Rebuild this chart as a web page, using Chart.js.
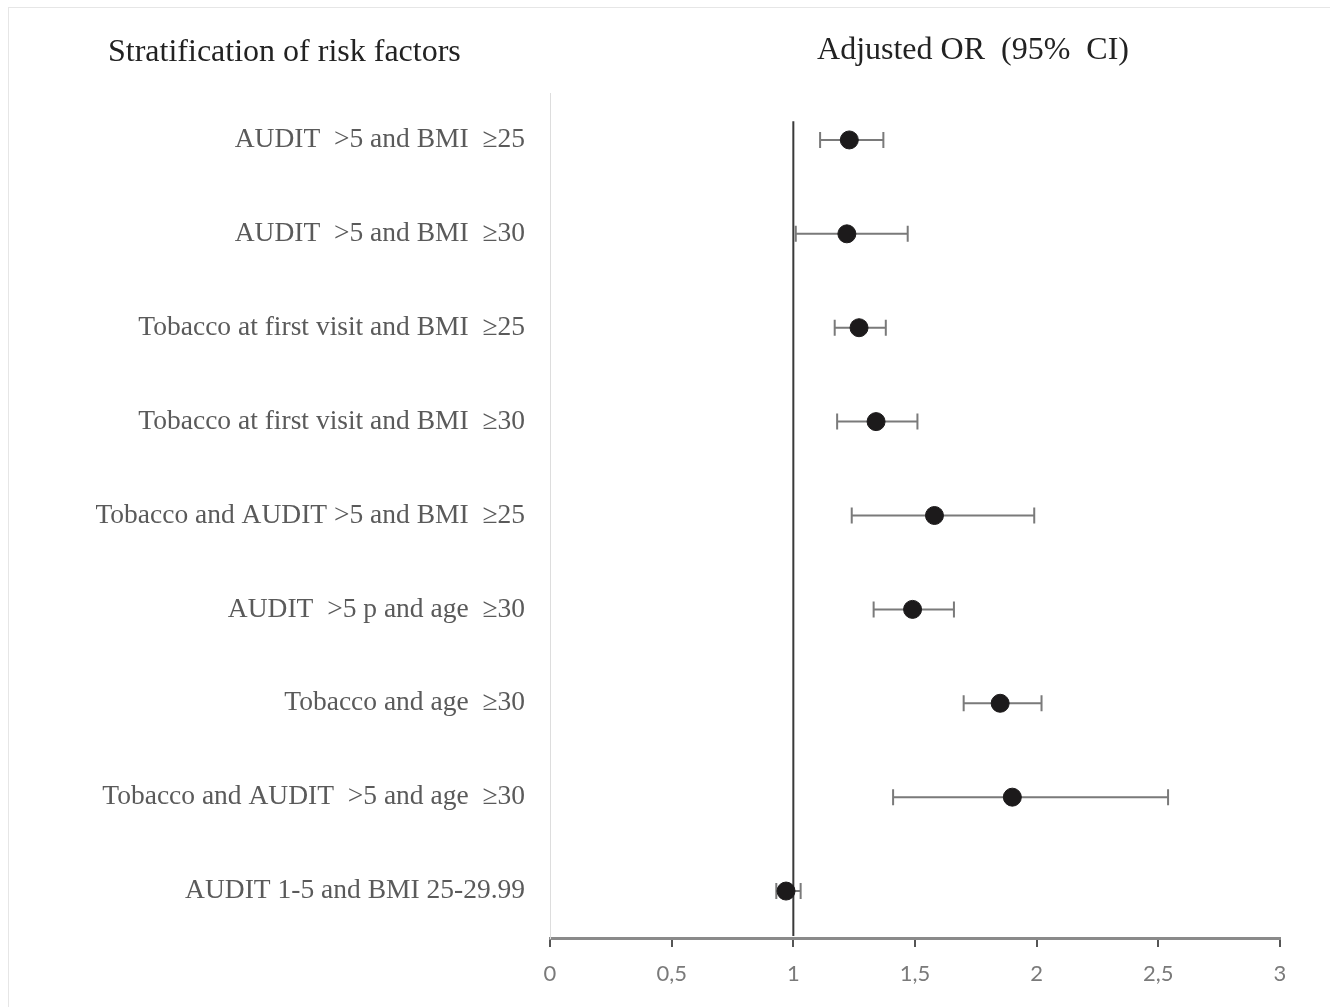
<!DOCTYPE html>
<html lang="en">
<head>
  <meta charset="UTF-8">
  <title>Adjusted OR forest plot</title>
  <script src="https://cdn.jsdelivr.net/npm/chart.js"></script>
  <style>
    html, body { margin: 0; padding: 0; background: #fff; }
    #wrap { position: relative; width: 1330px; height: 1007px; }
    #frame {
      position: absolute; left: 8px; top: 7px; right: 0; bottom: 0;
      border-left: 1px solid #e6e6e6; border-top: 1px solid #e6e6e6;
      pointer-events: none;
    }
  </style>
</head>
<body>
  <div id="wrap">
    <canvas id="forest" width="1330" height="1007"></canvas>
    <div id="frame"></div>
  </div>

  <script>
    // risk factor strata, top to bottom
    const factors = [
      "AUDIT  >5 and BMI  \u226525",
      "AUDIT  >5 and BMI  \u226530",
      "Tobacco at first visit and BMI  \u226525",
      "Tobacco at first visit and BMI  \u226530",
      "Tobacco and AUDIT >5 and BMI  \u226525",
      "AUDIT  >5 p and age  \u226530",
      "Tobacco and age  \u226530",
      "Tobacco and AUDIT  >5 and age  \u226530",
      "AUDIT 1-5 and BMI 25-29.99"
    ];
    const oddsRatio = [1.23, 1.22, 1.27, 1.34, 1.58, 1.49, 1.85, 1.90, 0.97];
    const ciLow     = [1.11, 1.01, 1.17, 1.18, 1.24, 1.33, 1.70, 1.41, 0.93];
    const ciHigh    = [1.37, 1.47, 1.38, 1.51, 1.99, 1.66, 2.02, 2.54, 1.03];
    const xTicks    = [0, 0.5, 1, 1.5, 2, 2.5, 3];

    const rowOf = i => i + 1;

    // whiskers for the confidence intervals
    const ciBars = {
      id: "ciBars",
      beforeDatasetsDraw(chart) {
        const { ctx, scales: { x, y } } = chart;
        ctx.save();
        ctx.strokeStyle = "#7a7a7a";
        ctx.lineWidth = 2;
        oddsRatio.forEach((_, i) => {
          const py = y.getPixelForValue(rowOf(i));
          const x1 = x.getPixelForValue(ciLow[i]);
          const x2 = x.getPixelForValue(ciHigh[i]);
          ctx.beginPath();
          ctx.moveTo(x1, py); ctx.lineTo(x2, py);
          ctx.moveTo(x1, py - 8); ctx.lineTo(x1, py + 8);
          ctx.moveTo(x2, py - 8); ctx.lineTo(x2, py + 8);
          ctx.stroke();
        });
        ctx.restore();
      }
    };

    // the two column headings
    const headings = {
      id: "headings",
      afterDraw(chart) {
        const { ctx } = chart;
        ctx.save();
        ctx.fillStyle = "#222";
        ctx.font = "32px 'Liberation Serif', serif";
        ctx.textBaseline = "middle";
        ctx.textAlign = "left";
        ctx.fillText("Stratification of risk factors", 108, 53);
        ctx.textAlign = "center";
        ctx.fillText("Adjusted OR  (95%  CI)", 973, 51);
        ctx.restore();
      }
    };

    new Chart(document.getElementById("forest"), {
      type: "scatter",
      data: {
        datasets: [
          {
            type: "line",
            label: "OR = 1",
            data: [{ x: 1, y: 0.8 }, { x: 1, y: 9.48 }],
            borderColor: "#3a3a3a",
            borderWidth: 2,
            pointRadius: 0,
            order: 2
          },
          {
            label: "Adjusted OR",
            data: oddsRatio.map((v, i) => ({ x: v, y: rowOf(i) })),
            backgroundColor: "#1c1a1b",
            borderColor: "#1c1a1b",
            pointRadius: 9,
            order: 1
          }
        ]
      },
      options: {
        responsive: false,
        animation: false,
        layout: { padding: { top: 93, right: 50, left: 0, bottom: 0 } },
        plugins: {
          legend: { display: false },
          tooltip: { enabled: false }
        },
        scales: {
          x: {
            type: "linear",
            min: 0,
            max: 3,
            afterBuildTicks: s => { s.ticks = xTicks.map(v => ({ value: v })); },
            afterFit: s => { s.height = 69; },
            border: { color: "#8a8a8a", width: 3 },
            grid: { drawOnChartArea: false, drawTicks: true, tickLength: 9, color: "#555", lineWidth: 2 },
            ticks: {
              padding: 14,
              color: "#7a7a7a",
              font: { family: "Lato, 'Liberation Sans', sans-serif", size: 22 },
              callback: v => String(v).replace(".", ",")
            }
          },
          y: {
            type: "linear",
            reverse: true,
            min: 0.5,
            max: 9.5,
            afterBuildTicks: s => { s.ticks = factors.map((_, i) => ({ value: rowOf(i) })); },
            afterFit: s => { s.width = 550; },
            border: { color: "#dddddd", width: 1 },
            grid: { display: false, drawTicks: false },
            ticks: {
              padding: 25,
              color: "#5a5a5a",
              font: { family: "'Liberation Serif', serif", size: 27.5 },
              callback: (v) => factors[Math.round(v) - 1] || ""
            }
          }
        }
      },
      plugins: [ciBars, headings]
    });
  </script>
</body>
</html>
